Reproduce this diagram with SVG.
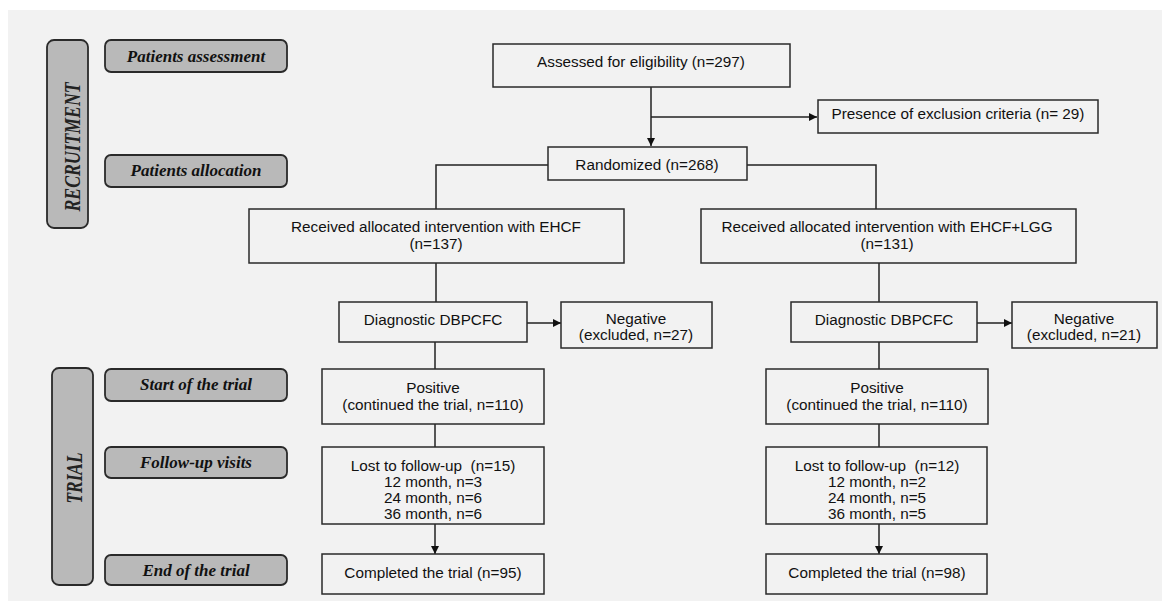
<svg xmlns="http://www.w3.org/2000/svg" width="1162" height="601" viewBox="0 0 1162 601">
<defs>
<marker id="ah" viewBox="0 0 10 10" refX="10" refY="5" markerWidth="8" markerHeight="8" markerUnits="userSpaceOnUse" orient="auto"><path d="M0,0 L10,5 L0,10 z" fill="#111"/></marker>
<style>
.lbl{fill:#b9b9b9;stroke:#2a2a2a;stroke-width:1.8}
.lt{font-family:"Liberation Serif",serif;font-weight:bold;font-style:italic;font-size:17px;fill:#111;text-anchor:middle}
.vt{font-family:"Liberation Serif",serif;font-weight:bold;font-style:italic;font-size:24px;fill:#222;text-anchor:middle}
.box{fill:#f2f2f2;stroke:#2a2a2a;stroke-width:1.5}
.t{font-family:"Liberation Sans",Arial,sans-serif;font-size:15.3px;fill:#111;text-anchor:middle}
.c{fill:none;stroke:#222;stroke-width:1.5}
</style>
</defs>
<rect x="0" y="0" width="1162" height="601" fill="#ffffff"/>
<rect x="8" y="10" width="1154" height="591" fill="#f2f2f2"/>

<g id="recruitment"><rect class="lbl" x="47" y="40" width="41" height="188" rx="7"/><text class="vt" transform="translate(80,147) rotate(-90)" textLength="129" lengthAdjust="spacingAndGlyphs">RECRUITMENT</text></g>
<g id="trial"><rect class="lbl" x="52" y="368" width="41" height="217" rx="7"/><text class="vt" transform="translate(82,478) rotate(-90)" textLength="51" lengthAdjust="spacingAndGlyphs">TRIAL</text></g>
<g id="lbl-assessment"><rect class="lbl" x="105" y="40" width="182" height="32" rx="6"/><text class="lt" x="196" y="62">Patients assessment</text></g>
<g id="lbl-allocation"><rect class="lbl" x="105" y="155" width="182" height="32" rx="6"/><text class="lt" x="196" y="176">Patients allocation</text></g>
<g id="lbl-start"><rect class="lbl" x="105" y="369" width="182" height="32" rx="6"/><text class="lt" x="196" y="390">Start of the trial</text></g>
<g id="lbl-followup"><rect class="lbl" x="105" y="447" width="182" height="31" rx="6"/><text class="lt" x="196" y="468">Follow-up visits</text></g>
<g id="lbl-end"><rect class="lbl" x="105" y="555" width="182" height="30" rx="6"/><text class="lt" x="196" y="576">End of the trial</text></g>

<g id="connectors">
<path class="c" d="M651,87 V146" marker-end="url(#ah)"/>
<path class="c" d="M651,117 H817" marker-end="url(#ah)"/>
<path class="c" d="M548,165 H436 V209"/>
<path class="c" d="M747,165 H876 V209"/>
<path class="c" d="M436,263 V302"/>
<path class="c" d="M879,263 V302"/>
<path class="c" d="M527,323 H561" marker-end="url(#ah)"/>
<path class="c" d="M977,323 H1012" marker-end="url(#ah)"/>
<path class="c" d="M435,342 V369"/>
<path class="c" d="M879,342 V369"/>
<path class="c" d="M435,424 V447"/>
<path class="c" d="M879,424 V447"/>
<path class="c" d="M435,524 V554" marker-end="url(#ah)"/>
<path class="c" d="M879,524 V554" marker-end="url(#ah)"/>
</g>

<g id="assessed"><rect class="box" x="493" y="44" width="297" height="43"/><text class="t" x="641" y="67">Assessed for eligibility (n=297)</text></g>
<g id="exclusion"><rect class="box" x="818" y="100" width="280" height="33"/><text class="t" x="958" y="119">Presence of exclusion criteria (n= 29)</text></g>
<g id="randomized"><rect class="box" x="548" y="147" width="199" height="33"/><text class="t" x="647" y="170">Randomized (n=268)</text></g>
<g id="ehcf"><rect class="box" x="249" y="209" width="375" height="54"/><text class="t" x="436" y="232">Received allocated intervention with EHCF</text><text class="t" x="436" y="249">(n=137)</text></g>
<g id="ehcf-lgg"><rect class="box" x="701" y="209" width="375" height="54"/><text class="t" x="887" y="232">Received allocated intervention with EHCF+LGG</text><text class="t" x="887" y="249">(n=131)</text></g>
<g id="diag-left"><rect class="box" x="339" y="302" width="188" height="40"/><text class="t" x="433" y="325">Diagnostic DBPCFC</text></g>
<g id="neg-left"><rect class="box" x="561" y="302" width="151" height="46"/><text class="t" x="636" y="324">Negative</text><text class="t" x="636" y="340">(excluded, n=27)</text></g>
<g id="diag-right"><rect class="box" x="791" y="302" width="186" height="40"/><text class="t" x="884" y="325">Diagnostic DBPCFC</text></g>
<g id="neg-right"><rect class="box" x="1012" y="302" width="145" height="46"/><text class="t" x="1084" y="324">Negative</text><text class="t" x="1084" y="340">(excluded, n=21)</text></g>
<g id="pos-left"><rect class="box" x="322" y="369" width="222" height="55"/><text class="t" x="433" y="393">Positive</text><text class="t" x="433" y="410">(continued the trial, n=110)</text></g>
<g id="pos-right"><rect class="box" x="766" y="369" width="222" height="55"/><text class="t" x="877" y="393">Positive</text><text class="t" x="877" y="410">(continued the trial, n=110)</text></g>
<g id="lost-left"><rect class="box" x="322" y="447" width="222" height="77"/><text class="t" x="433" y="471" xml:space="preserve">Lost to follow-up  (n=15)</text><text class="t" x="433" y="487">12 month, n=3</text><text class="t" x="433" y="503">24 month, n=6</text><text class="t" x="433" y="519">36 month, n=6</text></g>
<g id="lost-right"><rect class="box" x="766" y="447" width="221" height="77"/><text class="t" x="877" y="471" xml:space="preserve">Lost to follow-up  (n=12)</text><text class="t" x="877" y="487">12 month, n=2</text><text class="t" x="877" y="503">24 month, n=5</text><text class="t" x="877" y="519">36 month, n=5</text></g>
<g id="done-left"><rect class="box" x="322" y="554" width="222" height="40"/><text class="t" x="433" y="578">Completed the trial (n=95)</text></g>
<g id="done-right"><rect class="box" x="766" y="554" width="221" height="40"/><text class="t" x="877" y="578">Completed the trial (n=98)</text></g>
</svg>
